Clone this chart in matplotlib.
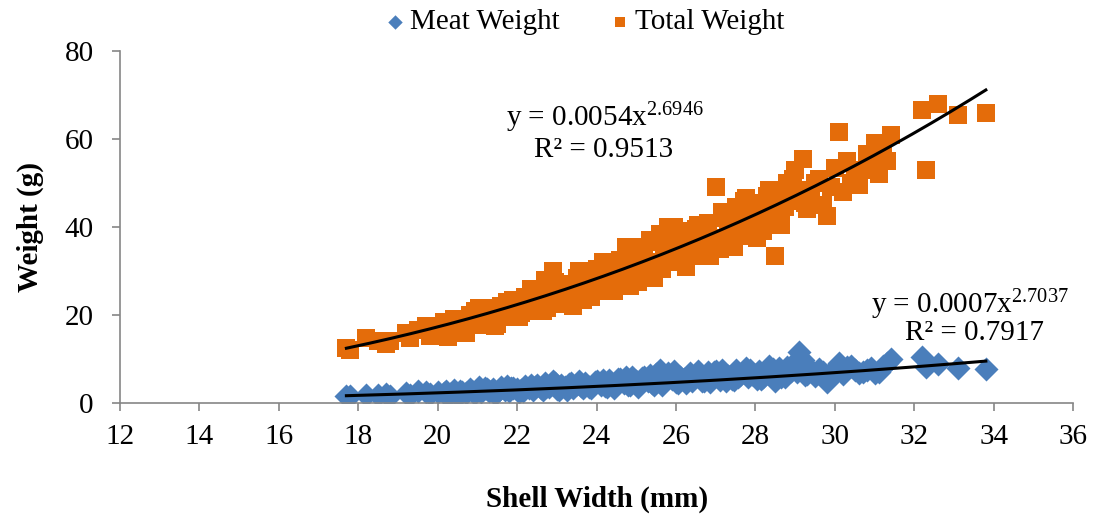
import numpy as np
import matplotlib.pyplot as plt

plt.rcParams['font.family'] = ['Liberation Serif', 'DejaVu Serif']
plt.rcParams['mathtext.fontset'] = 'custom'
plt.rcParams['mathtext.rm'] = 'Liberation Serif'
plt.rcParams['mathtext.default'] = 'regular'

# shell width (mm), total weight (g), meat weight (g)
shell_width = [17.7, 17.8, 18.2, 18.5, 18.7, 18.8, 19.2, 19.3, 19.7, 19.8,
               20.0, 20.2, 20.3, 20.4, 20.5, 20.6, 20.7, 20.8, 20.9, 21.0,
               21.1, 21.2, 21.3, 21.4, 21.5, 21.6, 21.7, 21.8, 21.9, 22.0,
               22.1, 22.2, 22.3, 22.4, 22.5, 22.6, 22.7, 22.8, 22.9, 23.0,
               23.1, 23.2, 23.3, 23.4, 23.5, 23.6, 23.7, 23.8, 23.9, 24.0,
               24.1, 24.2, 24.3, 24.4, 24.5, 24.6, 24.7, 24.8, 24.9, 25.0,
               25.1, 25.2, 25.3, 25.4, 25.5, 25.6, 25.7, 25.8, 25.9, 26.0,
               26.1, 26.2, 26.3, 26.4, 26.5, 26.6, 26.7, 26.8, 26.9, 27.0,
               27.1, 27.2, 27.3, 27.4, 27.5, 27.6, 27.7, 27.8, 27.9, 28.0,
               28.1, 28.2, 28.3, 28.4, 28.5, 28.6, 28.7, 28.8, 28.9, 29.0,
               29.1, 29.2, 29.3, 29.4, 29.6, 29.8, 29.9, 30.0, 30.1, 30.2,
               30.3, 30.5, 30.6, 30.8, 30.9, 31.0, 31.1, 31.2, 31.4, 32.2,
               32.3, 32.6, 33.1, 33.8,
               20.15, 20.55, 20.95, 21.25, 21.55, 21.85, 22.15, 22.45, 22.75, 23.05,
               23.35, 23.65, 23.95, 24.25, 24.55, 24.85, 25.15, 25.45, 25.75, 26.05,
               26.35, 26.65, 26.95, 27.25, 27.55, 27.85, 28.15, 28.45, 28.75, 29.05,
               29.5, 29.7, 30.4, 30.7, 31.3,
               21.05, 21.45, 21.75, 22.05, 22.35, 22.65, 22.95, 23.25, 23.55, 23.85,
               24.15, 24.45, 24.75, 25.05, 25.35, 25.65, 25.95, 26.25, 26.55, 26.85,
               27.15, 27.45, 27.75, 28.05, 28.35, 28.65, 28.95, 29.25, 19.5, 20.25]

total_weight = [12.5, 12.0, 14.8, 14.0, 13.5, 14.2, 16.0, 14.8, 17.5, 15.2,
                16.5, 17.8, 16.2, 19.0, 17.0, 18.5, 15.8, 20.0, 18.2, 19.5,
                17.8, 20.5, 19.0, 21.5, 18.0, 22.0, 20.2, 21.0, 23.5, 21.8,
                20.5, 24.0, 22.5, 21.0, 25.5, 23.0, 28.0, 24.5, 30.0, 22.5,
                25.8, 24.2, 27.0, 22.0, 28.5, 26.0, 29.0, 25.0, 27.5, 30.5,
                28.0, 25.5, 31.5, 29.0, 27.0, 32.5, 30.0, 28.5, 34.0, 31.0,
                29.5, 35.5, 32.0, 30.5, 36.5, 38.5, 33.0, 40.0, 34.5, 32.0,
                37.0, 35.0, 38.0, 33.5, 39.5, 36.0, 34.0, 41.0, 37.5, 49.0,
                35.0, 42.0, 39.0, 36.5, 44.5, 40.5, 46.0, 38.0, 43.0, 41.5,
                45.5, 39.0, 47.0, 43.5, 33.5, 48.0, 45.0, 50.0, 46.5, 53.0,
                48.5, 55.5, 44.0, 47.5, 51.0, 42.5, 49.0, 53.5, 61.5, 48.0,
                55.0, 52.0, 49.5, 56.5, 54.5, 59.0, 52.0, 57.5, 61.0, 66.5,
                53.0, 68.0, 65.5, 66.0,
                18.5, 16.8, 20.8, 18.5, 21.2, 19.5, 23.0, 24.5, 21.5, 26.5,
                24.8, 23.5, 29.5, 27.0, 29.8, 26.5, 33.0, 28.5, 35.5, 39.0,
                34.5, 38.5, 35.0, 37.0, 42.0, 41.0, 43.0, 41.0, 44.5, 46.0,
                50.0, 45.0, 50.0, 53.0, 55.0,
                21.5, 17.5, 23.0, 19.5, 26.0, 20.8, 27.5, 22.8, 30.0, 24.0,
                32.0, 25.5, 35.5, 27.5, 37.0, 30.5, 40.0, 31.0, 40.5, 33.5,
                43.5, 35.5, 46.5, 37.5, 48.5, 40.5, 51.0, 45.5, 16.5, 15.0]

meat_weight = [1.6, 1.5, 1.9, 1.8, 2.0, 1.7, 2.2, 1.9, 2.5, 2.0,
               2.4, 2.8, 2.1, 3.0, 1.5, 2.6, 2.2, 3.2, 2.5, 3.0,
               2.4, 3.4, 2.8, 3.1, 2.6, 3.6, 3.0, 2.7, 3.5, 3.2,
               2.9, 3.8, 3.3, 3.0, 4.0, 3.4, 4.5, 3.7, 5.0, 3.2,
               4.1, 3.6, 4.3, 3.4, 4.4, 3.9, 4.6, 3.7, 4.2, 5.0,
               4.0, 3.8, 5.2, 4.4, 4.1, 5.5, 4.6, 4.2, 5.8, 4.9,
               4.3, 6.0, 5.1, 4.5, 6.5, 7.5, 5.2, 6.8, 5.5, 4.8,
               6.0, 5.4, 6.2, 5.0, 6.6, 5.7, 5.1, 7.0, 6.0, 7.2,
               5.3, 6.9, 6.2, 5.5, 7.5, 6.4, 7.0, 5.8, 6.7, 6.3,
               7.3, 5.9, 7.6, 6.8, 5.0, 8.0, 7.0, 8.2, 7.2, 8.5,
               11.5, 9.8, 6.5, 7.4, 7.8, 4.8, 6.0, 8.0, 9.0, 6.5,
               8.2, 7.4, 6.8, 7.5, 8.0, 6.8, 7.0, 8.5, 10.0, 10.5,
               8.2, 8.8, 8.0, 7.8,
               2.3, 2.7, 2.2, 3.2, 2.9, 3.3, 2.8, 3.6, 3.9, 3.0,
               4.6, 3.5, 4.8, 3.6, 5.4, 4.0, 5.6, 4.0, 6.2, 4.5,
               6.8, 5.0, 7.0, 5.0, 6.0, 7.4, 5.5, 7.8, 6.0, 7.0,
               6.2, 7.0, 8.5, 7.0, 9.0,
               3.6, 2.0, 3.9, 2.5, 4.2, 2.9, 4.6, 3.0, 5.0, 3.3,
               5.3, 3.5, 5.9, 3.7, 6.3, 4.2, 7.2, 4.6, 7.3, 4.8,
               7.6, 5.2, 7.9, 5.4, 8.3, 5.8, 8.8, 6.4, 2.7, 1.6]

# power trendlines as printed on the chart
total_fit = (0.0054, 2.6946, 0.9513)
meat_fit = (0.0007, 2.7037, 0.7917)

blue = '#4A7EBB'
orange = '#E46C0A'
grey = '#868686'
fs = 21

fig = plt.figure(figsize=(10.94, 5.16), dpi=100)
ax = fig.add_axes([0.1097, 0.219, 0.8713, 0.682])

ax.scatter(shell_width, meat_weight, marker='D', s=150, color=blue,
           linewidths=0, label='Meat Weight', zorder=2)
ax.scatter(shell_width, total_weight, marker='s', s=160, color=orange,
           linewidths=0, label='Total Weight', zorder=3)

xs = np.linspace(min(shell_width), max(shell_width), 200)
for a, b, _ in (total_fit, meat_fit):
    ax.plot(xs, a * xs ** b, color='black', lw=2.2, zorder=4)

ax.set_xlim(12, 36)
ax.set_ylim(0, 80)
ax.set_xticks(range(12, 37, 2))
ax.set_yticks(range(0, 81, 20))
for s in ('top', 'right'):
    ax.spines[s].set_visible(False)
for s in ('left', 'bottom'):
    ax.spines[s].set_color(grey)
    ax.spines[s].set_linewidth(1.2)
ax.tick_params(direction='out', length=6, width=1.2, color=grey,
               labelsize=fs)
ax.tick_params(axis='y', pad=13)
ax.tick_params(axis='x', pad=9)

ax.set_xlabel('Shell Width (mm)', fontsize=fs, fontweight='bold', labelpad=26)
ax.set_ylabel('Weight (g)', fontsize=fs, fontweight='bold', labelpad=15)

ax.text(0.553, 0.771, r'y = %.4fx$^{%.4f}$' % total_fit[:2], transform=fig.transFigure,
        ha='center', va='center', fontsize=fs)
ax.text(0.552, 0.709, 'R² = %.4f' % total_fit[2], transform=fig.transFigure,
        ha='center', va='center', fontsize=fs)
ax.text(0.887, 0.409, r'y = %.4fx$^{%.4f}$' % meat_fit[:2], transform=fig.transFigure,
        ha='center', va='center', fontsize=fs)
ax.text(0.891, 0.355, 'R² = %.4f' % meat_fit[2], transform=fig.transFigure,
        ha='center', va='center', fontsize=fs)

fig.legend(loc='center', bbox_to_anchor=(0.535, 0.957), ncol=2, frameon=False,
           fontsize=fs, handlelength=0.6, handletextpad=0.2, columnspacing=1.8,
           markerscale=0.6)

fig.savefig('out.png', dpi=100)
